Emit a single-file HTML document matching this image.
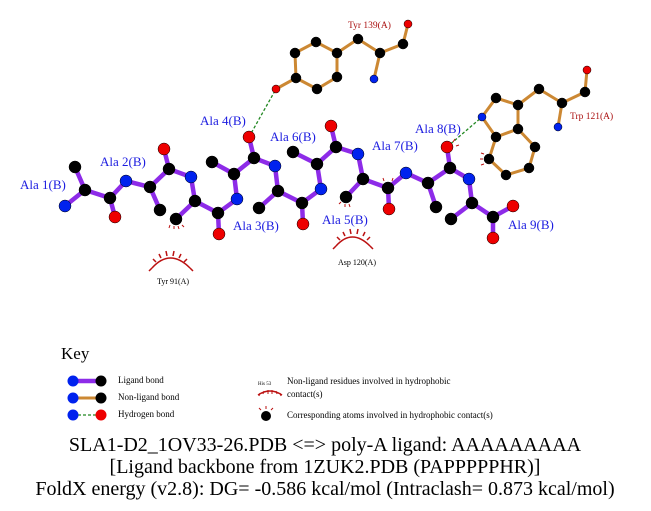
<!DOCTYPE html>
<html><head><style>body{margin:0;background:#fff}svg{display:block}</style></head><body>
<svg width="651" height="511" viewBox="0 0 651 511" xmlns="http://www.w3.org/2000/svg" font-family="Liberation Serif, serif">
<rect width="651" height="511" fill="#fff"/>
<g stroke="#228822" stroke-width="1.3" stroke-dasharray="3,2">
<line x1="249" y1="137" x2="276" y2="89"/>
<line x1="447" y1="147" x2="482" y2="117"/>
</g>
<g stroke="#cc8833" stroke-width="3" stroke-linecap="round">
<line x1="276" y1="89" x2="296" y2="78"/>
<polyline fill="none" points="296,78 295,53 316,42 337,53 337,77 317,89 296,78"/>
<line x1="337" y1="53" x2="358" y2="39"/>
<line x1="358" y1="39" x2="380" y2="53"/>
<line x1="380" y1="53" x2="374" y2="79"/>
<line x1="380" y1="53" x2="403" y2="44"/>
<line x1="403" y1="44" x2="408" y2="24"/>
<polyline fill="none" points="482,117 496,98 518,105 518,129 496,137 482,117"/>
<polyline fill="none" points="496,137 489,159 506,175 529,168 535,147 518,129"/>
<line x1="518" y1="105" x2="539" y2="89"/>
<line x1="539" y1="89" x2="562" y2="103"/>
<line x1="562" y1="103" x2="558" y2="127"/>
<line x1="562" y1="103" x2="585" y2="92"/>
<line x1="585" y1="92" x2="587" y2="70"/>
</g>
<g stroke="#8d2be8" stroke-width="4.5" stroke-linecap="round" fill="none">
<polyline points="65,206 85,190 110,198 126,181 150,187 169,169 191,177 195,201 218,213 237,199 234,174 254,158 275,166 278,191 302,203 321,189 317,164 336,147 358,154 363,179 388,188 406,173 428,183 450,168 469,179 472,203 493,217 513,206"/>
<line x1="85" y1="190" x2="75" y2="167"/>
<line x1="110" y1="198" x2="115" y2="217"/>
<line x1="150" y1="187" x2="160" y2="210"/>
<line x1="169" y1="169" x2="164" y2="149"/>
<line x1="195" y1="201" x2="176" y2="219"/>
<line x1="218" y1="213" x2="219" y2="234"/>
<line x1="234" y1="174" x2="212" y2="162"/>
<line x1="254" y1="158" x2="249" y2="137"/>
<line x1="278" y1="191" x2="259" y2="208"/>
<line x1="302" y1="203" x2="303" y2="224"/>
<line x1="317" y1="164" x2="293" y2="152"/>
<line x1="336" y1="147" x2="331" y2="126"/>
<line x1="363" y1="179" x2="346" y2="197"/>
<line x1="388" y1="188" x2="389" y2="209"/>
<line x1="428" y1="183" x2="436" y2="207"/>
<line x1="450" y1="168" x2="447" y2="147"/>
<line x1="472" y1="203" x2="451" y2="219"/>
<line x1="493" y1="217" x2="493" y2="238"/>
</g>
<g stroke="#000" stroke-width="0.5">
<g fill="#000">
<circle cx="85" cy="190" r="6"/><circle cx="75" cy="167" r="6"/><circle cx="110" cy="198" r="6"/>
<circle cx="150" cy="187" r="6"/><circle cx="160" cy="210" r="6"/><circle cx="169" cy="169" r="6"/>
<circle cx="195" cy="201" r="6"/><circle cx="176" cy="219" r="6"/><circle cx="218" cy="213" r="6"/>
<circle cx="234" cy="174" r="6"/><circle cx="212" cy="162" r="6"/><circle cx="254" cy="158" r="6"/>
<circle cx="278" cy="191" r="6"/><circle cx="259" cy="208" r="6"/><circle cx="302" cy="203" r="6"/>
<circle cx="317" cy="164" r="6"/><circle cx="293" cy="152" r="6"/><circle cx="336" cy="147" r="6"/>
<circle cx="363" cy="179" r="6"/><circle cx="346" cy="197" r="6"/><circle cx="388" cy="188" r="6"/>
<circle cx="428" cy="183" r="6"/><circle cx="436" cy="207" r="6"/><circle cx="450" cy="168" r="6"/>
<circle cx="472" cy="203" r="6"/><circle cx="451" cy="219" r="6"/><circle cx="493" cy="217" r="6"/>
</g>
<g fill="#0022ee">
<circle cx="65" cy="206" r="6"/><circle cx="126" cy="181" r="6"/><circle cx="191" cy="177" r="6"/>
<circle cx="237" cy="199" r="6"/><circle cx="275" cy="166" r="6"/><circle cx="321" cy="189" r="6"/>
<circle cx="358" cy="154" r="6"/><circle cx="406" cy="173" r="6"/><circle cx="469" cy="179" r="6"/>
</g>
<g fill="#ee0000">
<circle cx="115" cy="217" r="6"/><circle cx="164" cy="149" r="6"/><circle cx="219" cy="234" r="6"/>
<circle cx="249" cy="137" r="6"/><circle cx="303" cy="224" r="6"/><circle cx="331" cy="126" r="6"/>
<circle cx="389" cy="209" r="6"/><circle cx="447" cy="147" r="6"/><circle cx="513" cy="206" r="6"/>
<circle cx="493" cy="238" r="6"/>
</g>
<g fill="#000">
<circle cx="296" cy="78" r="5"/><circle cx="295" cy="53" r="5"/><circle cx="316" cy="42" r="5"/>
<circle cx="337" cy="53" r="5"/><circle cx="337" cy="77" r="5"/><circle cx="317" cy="89" r="5"/>
<circle cx="358" cy="39" r="5"/><circle cx="380" cy="53" r="5"/><circle cx="403" cy="44" r="5"/>
<circle cx="496" cy="98" r="5"/><circle cx="518" cy="105" r="5"/><circle cx="518" cy="129" r="5"/>
<circle cx="496" cy="137" r="5"/><circle cx="489" cy="159" r="5"/><circle cx="506" cy="175" r="5"/>
<circle cx="529" cy="168" r="5"/><circle cx="535" cy="147" r="5"/><circle cx="539" cy="89" r="5"/>
<circle cx="562" cy="103" r="5"/><circle cx="585" cy="92" r="5"/>
</g>
<g fill="#0022ee"><circle cx="374" cy="79" r="4"/><circle cx="482" cy="117" r="4"/><circle cx="558" cy="127" r="4"/></g>
<g fill="#ee0000"><circle cx="276" cy="89" r="4"/><circle cx="408" cy="24" r="4"/><circle cx="587" cy="70" r="4"/></g>
</g>
<g stroke="#bb1111" stroke-width="1.5" fill="none">
<path d="M152,268 Q170,248 190,268"/>
<path d="M152,268 l-3,3 M156,262 l-3,-3 M161,258 l-2,-4 M167,256 l-1,-5 M173,256 l1,-5 M179,258 l2,-4 M184,262 l3,-3 M190,268 l3,3"/>
<path d="M336,246 Q352,228 370,246"/>
<path d="M336,246 l-3,3 M340,240 l-3,-3 M345,236 l-2,-4 M351,234 l-1,-5 M357,234 l1,-5 M363,236 l2,-4 M367,240 l3,-3 M370,246 l3,3"/>
<path d="M170,225 l-1,3 M174,226 l0,3 M178,226 l1,3 M182,225 l2,2" stroke-width="1"/>
<path d="M341,202 l-2,2 M345,204 l0,3 M349,204 l1,3" stroke-width="1"/>
<path d="M384,181 l-1,-3 M392,181 l1,-3" stroke-width="1"/>
<path d="M453,142 l2,-3 M456,146 l3,-1" stroke-width="1"/>
<path d="M484,154 l-3,-1 M483,159 l-3,0 M484,164 l-3,1" stroke-width="1"/>
</g>
<g fill="#1c1ce0" font-size="13">
<text x="20" y="189">Ala 1(B)</text>
<text x="100" y="166">Ala 2(B)</text>
<text x="233" y="230">Ala 3(B)</text>
<text x="200" y="125">Ala 4(B)</text>
<text x="322" y="224">Ala 5(B)</text>
<text x="270" y="141">Ala 6(B)</text>
<text x="372" y="150">Ala 7(B)</text>
<text x="415" y="133">Ala 8(B)</text>
<text x="508" y="229">Ala 9(B)</text>
</g>
<g fill="#aa1111" font-size="9.5">
<text x="348" y="28">Tyr 139(A)</text>
<text x="570" y="119">Trp 121(A)</text>
</g>
<g fill="#000" font-size="8">
<text x="157" y="284">Tyr 91(A)</text>
<text x="338" y="265">Asp 120(A)</text>
</g>
<text x="61" y="359" font-size="17" fill="#000">Key</text>
<line x1="73" y1="381" x2="101" y2="381" stroke="#8d2be8" stroke-width="4.5"/>
<line x1="73" y1="398" x2="101" y2="398" stroke="#cc8833" stroke-width="3"/>
<line x1="73" y1="415" x2="101" y2="415" stroke="#228822" stroke-width="1.3" stroke-dasharray="3,2"/>
<circle cx="73" cy="381" r="5.5" fill="#0022ee"/><circle cx="101" cy="381" r="5.5" fill="#000"/>
<circle cx="73" cy="398" r="5.5" fill="#0022ee"/><circle cx="101" cy="398" r="5.5" fill="#000"/>
<circle cx="73" cy="415" r="5.5" fill="#0022ee"/><circle cx="101" cy="415" r="5.5" fill="#ee0000"/>
<g font-size="9" fill="#000">
<text x="118" y="383">Ligand bond</text>
<text x="118" y="400">Non-ligand bond</text>
<text x="118" y="417">Hydrogen bond</text>
<text x="287" y="384">Non-ligand residues involved in hydrophobic</text>
<text x="287" y="397">contact(s)</text>
<text x="287" y="418">Corresponding atoms involved in hydrophobic contact(s)</text>
<text x="258" y="385" font-size="5">His 53</text>
</g>
<path d="M258,395 Q270,387 282,395" stroke="#bb1111" stroke-width="1.5" fill="none"/>
<path d="M260,393 l-1,3 M264,391 l-1,3 M268,390 l0,4 M272,390 l0,4 M276,391 l1,3 M280,393 l1,3" stroke="#bb1111" stroke-width="1"/>
<circle cx="266" cy="416" r="5" fill="#000"/>
<path d="M261,410 l-2,-2 M266,409 l0,-3 M271,410 l2,-2" stroke="#bb1111" stroke-width="1"/>
<g font-size="20" fill="#000" text-anchor="middle">
<text x="325" y="451">SLA1-D2_1OV33-26.PDB &lt;=&gt; poly-A ligand: AAAAAAAAA</text>
<text x="325" y="473">[Ligand backbone from 1ZUK2.PDB (PAPPPPPHR)]</text>
<text x="325" y="495">FoldX energy (v2.8): DG= -0.586 kcal/mol (Intraclash= 0.873 kcal/mol)</text>
</g>
</svg>
</body></html>
